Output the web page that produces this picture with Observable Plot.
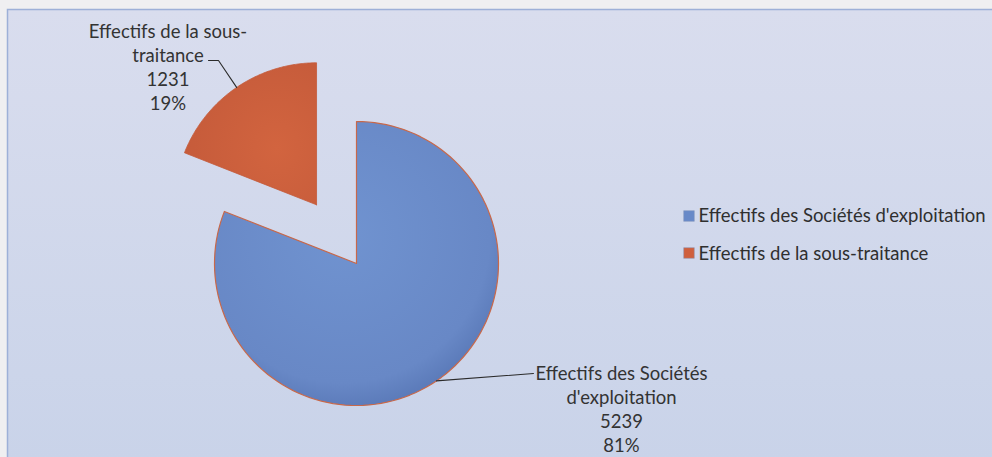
<!DOCTYPE html>
<html><head><meta charset="utf-8">
<script src="https://cdn.jsdelivr.net/npm/d3@7"></script>
<script src="https://cdn.jsdelivr.net/npm/@observablehq/plot@0.6"></script>
<style>
body{margin:0;background:#efeff1;}
#chart{width:992px;height:457px;overflow:hidden;}
#chart svg{display:block;}
</style></head><body><div id="chart"></div>
<script>
// ---- data ----
const categories = ["Effectifs des Sociétés d'exploitation", "Effectifs de la sous-traitance"];
const values = [5239, 1231];
const labelText = ["Effectifs des Sociétés\nd'exploitation", "Effectifs de la sous-\ntraitance"];
const sliceColors = ["#6889c8", "#cf5f3d"];
const explodeBy = [0, 0.5];

// ---- layout ----
const W = 992, H = 457, CX = 356, CY = 263, R = 142;
const ux = px => (px - CX) / R;      // pixel -> data units (x)
const uy = py => (CY - py) / R;      // pixel -> data units (y, up)
const total = d3.sum(values);
const pie = d3.pie().sort(null).value(d => d)(values);

const slices = pie.map((a, i) => {
  const mid = (a.startAngle + a.endAngle) / 2;
  const ox = explodeBy[i] * Math.sin(mid), oy = explodeBy[i] * Math.cos(mid);
  const pts = [{x: ox, y: oy, k: i}];
  const n = 120;
  for (let t = 0; t <= n; t++) {
    const ang = a.startAngle + (a.endAngle - a.startAngle) * t / n;
    pts.push({x: ox + Math.sin(ang), y: oy + Math.cos(ang), k: i});
  }
  pts.push({x: ox, y: oy, k: i});
  return {pts, mid, ox, oy};
});

// leader lines: from arc mid-point to label anchor
const leaderEnds = [
  [[ux(533), uy(373)]],
  [[ux(218), uy(60)], [ux(208), uy(60)]]
];
const leaders = slices.map((s, i) => {
  const p = [{x: s.ox + Math.sin(s.mid), y: s.oy + Math.cos(s.mid), k: i}];
  leaderEnds[i].forEach(([x, y]) => p.push({x, y, k: i}));
  return p;
}).flat();

const FS = 18.5;
const labelPos = [[ux(621), uy(375 - 0.71 * FS)], [ux(167.5), uy(33 - 0.71 * FS)]];
const labels = values.map((v, i) => ({
  x: labelPos[i][0], y: labelPos[i][1],
  text: `${labelText[i]}\n${v}\n${Math.round(v / total * 100)}%`
}));

const font = "Lato, 'Open Sans', sans-serif";

const marks = [
  Plot.frame({fill: "url(#gBg)", stroke: "#9db0d8", strokeWidth: 1.5, insetLeft: 7, insetTop: 9, insetRight: -3, insetBottom: -3}),
  Plot.line(slices[1].pts, {x: "x", y: "y", fill: "url(#gOrange)", stroke: "#c45a3a", strokeWidth: 0.8, curve: "linear"}),
  Plot.line(slices[0].pts, {x: "x", y: "y", fill: "url(#gBlue)", stroke: "#c8684a", strokeWidth: 1.2, curve: "linear"}),
  Plot.line(leaders, {x: "x", y: "y", z: "k", stroke: "#2b2b2b", strokeWidth: 1.1}),
  Plot.text(labels, {x: "x", y: "y", text: "text", lineAnchor: "top", textAnchor: "middle", fontSize: FS, lineHeight: 1.31, fill: "#333", fontFamily: font}),
];
categories.forEach((c, i) => {
  marks.push(Plot.dot([c], {frameAnchor: "top-left", dx: 688.5, dy: 215.5 + i * 37, symbol: "square", r: 6, fill: sliceColors[i], stroke: "#8899bb", strokeWidth: 0.5}));
  marks.push(Plot.text([c], {frameAnchor: "top-left", dx: 698, dy: 216 + i * 38, text: d => d, textAnchor: "start", lineAnchor: "middle", fontSize: FS, fill: "#2f2f2f", fontFamily: font}));
});

const chart = Plot.plot({
  width: W, height: H,
  margin: 0,
  x: {domain: [ux(0), ux(W)], axis: null},
  y: {domain: [uy(H), uy(0)], axis: null},
  style: {background: "transparent", fontFamily: font},
  marks
});

// gradients for a subtle 3D look and the scanned page background
const defs = d3.select(chart).insert("defs", ":first-child");
const bg = defs.append("linearGradient").attr("id", "gBg").attr("x1", 0).attr("y1", 0).attr("x2", 0).attr("y2", 1);
bg.append("stop").attr("offset", "0%").attr("stop-color", "#d9ddee");
bg.append("stop").attr("offset", "100%").attr("stop-color", "#c9d3e9");
const gb = defs.append("radialGradient").attr("id", "gBlue").attr("cx", "45%").attr("cy", "40%").attr("r", "65%");
gb.append("stop").attr("offset", "0%").attr("stop-color", "#7093d0");
gb.append("stop").attr("offset", "80%").attr("stop-color", "#6888c6");
gb.append("stop").attr("offset", "100%").attr("stop-color", "#5675b4");
const go = defs.append("radialGradient").attr("id", "gOrange").attr("cx", "70%").attr("cy", "60%").attr("r", "80%");
go.append("stop").attr("offset", "0%").attr("stop-color", "#d2643f");
go.append("stop").attr("offset", "100%").attr("stop-color", "#c45a3a");

document.getElementById("chart").append(chart);
</script>
</body></html>
